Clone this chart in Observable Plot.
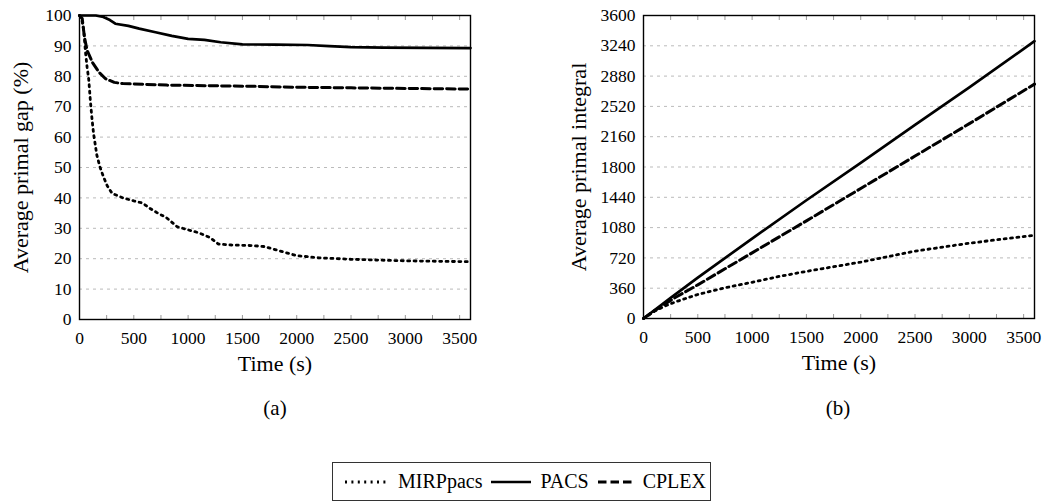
<!DOCTYPE html>
<html><head><meta charset="utf-8">
<script src="https://cdn.jsdelivr.net/npm/d3@7"></script>
<script src="https://cdn.jsdelivr.net/npm/@observablehq/plot@0.6"></script>
<style>
body{margin:0;background:#fff;}
#wrap{position:relative;width:1044px;height:504px;font-family:"Liberation Serif","Times New Roman",Times,serif;color:#000;background:#fff;overflow:hidden;}
.panel{position:absolute;top:0;}
.cap{position:absolute;font-size:21px;transform:translate(-50%,-50%);white-space:nowrap;}
#legend{position:absolute;left:332px;top:462px;width:379px;height:39px;border:1px solid #333;box-sizing:border-box;display:flex;align-items:center;padding-left:12px;font-size:20px;white-space:nowrap;}
#legend svg{display:block;}
#legend .item{display:flex;align-items:center;}
#legend .lab{margin-left:9px;margin-right:9px;}
</style></head><body>
<div id="wrap">
  <div id="pa" class="panel" style="left:0px"></div>
  <div id="pb" class="panel" style="left:560px"></div>
  <div class="cap" style="left:275px;top:408px">(a)</div>
  <div class="cap" style="left:838px;top:408px">(b)</div>
  <div id="legend"></div>
</div>
<script>
// ---- data ----
const seriesNames = ["MIRPpacs", "PACS", "CPLEX"];
const timeTicks = [0, 500, 1000, 1500, 2000, 2500, 3000, 3500];
const minorTimeTicks = [250, 500, 750, 1000, 1250, 1500, 1750, 2000, 2250, 2500, 2750, 3000, 3250, 3500];
const gapTicks = [0, 10, 20, 30, 40, 50, 60, 70, 80, 90, 100];
const gapGrid = [10, 20, 30, 40, 50, 60, 70, 80, 90];
const integralTicks = [0, 360, 720, 1080, 1440, 1800, 2160, 2520, 2880, 3240, 3600];
const integralGrid = [360, 720, 1080, 1440, 1800, 2160, 2520, 2880, 3240];

// (a) average primal gap (%) over time (s)
const gapMIRPpacs = [[0,100],[20,99],[40,95],[55,88],[70,83],[85,79],[100,72],[115,66],[130,61],[160,54],[190,50],[220,47],[255,44],[300,41.5],[400,40],[500,39],[580,38.3],[650,36.5],[720,35],[800,33.5],[900,30.5],[1000,29.5],[1100,28.5],[1200,27],[1280,24.8],[1400,24.5],[1600,24.3],[1700,24],[1800,23],[1900,22],[2000,21],[2200,20.3],[2500,19.8],[3000,19.3],[3600,19]];
const gapPACS = [[0,100],[150,100],[220,99.5],[280,98.5],[330,97.3],[450,96.6],[550,95.7],[700,94.5],[850,93.3],[1000,92.3],[1150,92],[1300,91.2],[1500,90.5],[1800,90.4],[2100,90.3],[2300,89.9],[2500,89.6],[2800,89.4],[3600,89.3]];
const gapCPLEX = [[0,100],[25,99],[45,93],[70,88.5],[120,84.5],[180,81.3],[240,79.2],[320,78],[400,77.6],[800,77.1],[1200,76.9],[1600,76.7],[2000,76.4],[2500,76.2],[3000,76],[3600,75.8]];

// (b) average primal integral over time (s)
const intMIRPpacs = [[0,0],[100,85],[200,150],[300,200],[500,285],[750,365],[1000,430],[1250,500],[1500,560],[1750,615],[2000,670],[2500,800],[3000,895],[3600,990]];
const intPACS = [[0,0],[250,245],[500,485],[1000,950],[1500,1405],[2000,1850],[2500,2300],[3000,2745],[3600,3295]];
const intCPLEX = [[0,0],[100,92],[300,255],[500,400],[1000,780],[1500,1160],[2000,1545],[2500,1930],[3000,2315],[3600,2785]];

// ---- styles ----
const lineStyle = {
  MIRPpacs: {stroke: "#000", strokeWidth: 2.8, strokeDasharray: "2,4.4"},
  PACS: {stroke: "#000", strokeWidth: 2.7},
  CPLEX: {stroke: "#000", strokeWidth: 3, strokeDasharray: "8.5,4"}
};
const font = "'Liberation Serif', 'Times New Roman', Times, serif";
const plain = d => String(d);

function panel({w, ml, mr, mb, yDomain, yTicks, yGrid, yLabel, yLabelDx, series}) {
  return Plot.plot({
    width: w, height: 380,
    marginLeft: ml, marginRight: mr, marginTop: 15, marginBottom: mb,
    style: {fontFamily: font, fontSize: "17.5px", background: "white", color: "#000", overflow: "visible"},
    x: {domain: [0, 3600]},
    y: {domain: yDomain},
    marks: [
      Plot.gridY(yGrid, {stroke: "#bbb", strokeOpacity: 1, strokeWidth: 1, strokeDasharray: "3,4"}),
      Plot.axisX(minorTimeTicks, {anchor: "bottom", tickSize: -4, fill: "none", stroke: "#999", label: null}),
      Plot.axisX(minorTimeTicks, {anchor: "top", tickSize: -4, fill: "none", stroke: "#999", label: null}),
      Plot.axisX(timeTicks, {anchor: "bottom", tickSize: 0, tickPadding: 12, label: null, tickFormat: plain}),
      Plot.axisY(yTicks, {anchor: "left", tickSize: 0, tickPadding: 8, label: null, tickFormat: plain}),
      ...series.map(([name, data]) => Plot.line(data, {x: d => d[0], y: d => d[1], ...lineStyle[name]})),
      Plot.frame({stroke: "#000", strokeWidth: 1.4}),
      Plot.text(["Time (s)"], {frameAnchor: "bottom", dy: 44, lineAnchor: "middle", textAnchor: "middle", fontSize: 22, fill: "#000"}),
      Plot.text([yLabel], {frameAnchor: "left", dx: yLabelDx, rotate: -90, lineAnchor: "middle", textAnchor: "middle", fontSize: 22, fill: "#000"})
    ]
  });
}

document.getElementById("pa").append(panel({
  w: 520, ml: 79, mr: 50, mb: 61,
  yDomain: [0, 100], yTicks: gapTicks, yGrid: gapGrid,
  yLabel: "Average primal gap (%)", yLabelDx: -59,
  series: [["MIRPpacs", gapMIRPpacs], ["PACS", gapPACS], ["CPLEX", gapCPLEX]]
}));
document.getElementById("pb").append(panel({
  w: 484, ml: 83, mr: 10, mb: 62,
  yDomain: [0, 3600], yTicks: integralTicks, yGrid: integralGrid,
  yLabel: "Average primal integral", yLabelDx: -65,
  series: [["MIRPpacs", intMIRPpacs], ["PACS", intPACS], ["CPLEX", intCPLEX]]
}));

// legend
const legend = document.getElementById("legend");
const sampleW = {MIRPpacs: 44, PACS: 40, CPLEX: 36};
for (const name of seriesNames) {
  const item = document.createElement("div");
  item.className = "item";
  const st = lineStyle[name];
  const sw = sampleW[name];
  item.innerHTML = `<svg width="${sw}" height="10"><line x1="0" y1="5" x2="${sw}" y2="5" stroke="${st.stroke}" stroke-width="${st.strokeWidth}" ${st.strokeDasharray ? `stroke-dasharray="${st.strokeDasharray}"` : ""}/></svg><span class="lab">${name}</span>`;
  legend.append(item);
}
</script>
</body></html>
